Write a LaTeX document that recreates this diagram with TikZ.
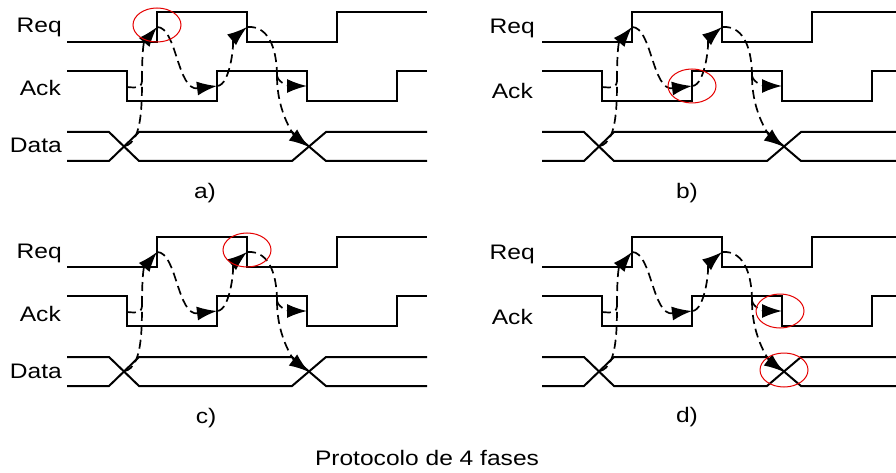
\documentclass[tikz,border=0pt]{standalone}
\usepackage{fontspec}
\setmainfont{Liberation Sans}[FakeStretch=1.17]
\usetikzlibrary{arrows.meta}
\tikzset{
	wave/.style={line width=2pt, line join=miter},
	depline/.style={line width=1.7pt, dash pattern=on 9pt off 5pt},
	dep/.style={depline, arrows={-Latex[length=20pt, width=14pt]}},
	hilite/.style={draw=red!90!black, line width=1pt},
	siglbl/.style={anchor=base east, inner sep=0pt, font=\fontsize{21}{25}\selectfont},
	sublbl/.style={anchor=base, inner sep=0pt, font=\fontsize{21}{25}\selectfont},
}
% one timing panel: #1 name prefix, #2 right end of the traces
\newcommand{\fasepanel}[2]{%
	% traces
	\draw[wave] (67,42) -- (157,42) -- (157,12) -- (247,12) -- (247,42) -- (337,42) -- (337,12) -- (#2,12);
	\draw[wave] (67,71) -- (127,71) -- (127,101) -- (217,101) -- (217,71) -- (307,71) -- (307,101) -- (397,101) -- (397,71) -- (#2,71);
	\draw[wave] (67,132) -- (109,132) -- (139,161) -- (292,161) -- (326,132) -- (#2,132);
	\draw[wave] (67,161) -- (109,161) -- (139,132) -- (292,132) -- (326,161) -- (#2,161);
	% events
	\coordinate (#1-ackdn) at (127,87);
	\coordinate (#1-cross) at (125,146);
	\coordinate (#1-join) at (142,80);
	\coordinate (#1-requp) at (157,27);
	\coordinate (#1-ackup) at (217,86);
	\coordinate (#1-reqdn) at (247,27);
	\coordinate (#1-fork) at (277,76);
	\coordinate (#1-ackdn2) at (307,86);
	\coordinate (#1-cross2) at (309,147);
	% handshake
	\draw[depline] (#1-cross) .. controls +(16,-4) and +(0,30) .. (#1-join);
	\draw[depline] (#1-ackdn) .. controls +(10,1) and +(0,8) .. (#1-join);
	\draw[dep] (#1-join) .. controls +(0,-50) and +(-10,12) .. (#1-requp);
	\draw[dep] (#1-requp) .. controls +(20,0) and +(-40,5) .. (#1-ackup);
	\draw[dep] (#1-ackup) .. controls +(14,0) and +(-12,10) .. (#1-reqdn);
	\draw[depline] (#1-reqdn) .. controls +(25,-2) and +(0,-20) .. (#1-fork);
	\draw[dep] (#1-fork) .. controls +(2,8) and +(-16,0) .. (#1-ackdn2);
	\draw[dep] (#1-fork) .. controls +(0,40) and +(-12,-9) .. (#1-cross2);
}

\begin{document}
\begin{tikzpicture}[x=1pt, y=-1pt]
	\useasboundingbox (0,0) rectangle (896,473);
	% a) Req rises
	\begin{scope}
		\fasepanel{a}{427}
		\node[siglbl] (a-req) at (62,33) {Req};
		\node[siglbl] (a-ack) at (61,96) {Ack};
		\node[siglbl] (a-data) at (62,153) {Data};
		\node[sublbl] (a-cap) at (205,198) {a)};
		\draw[hilite] (a-requp) ++(0,-2) ellipse [x radius=24pt, y radius=17pt];
	\end{scope}
	% b) Ack rises
	\begin{scope}[shift={(475,0)}]
		\fasepanel{b}{421}
		\node[siglbl] (b-req) at (60,34) {Req};
		\node[siglbl] (b-ack) at (58,99) {Ack};
		\node[sublbl] (b-cap) at (212,198) {b)};
		\draw[hilite] (b-ackup) ellipse [x radius=24pt, y radius=17pt];
	\end{scope}
	% c) Req falls
	\begin{scope}[shift={(0,225)}]
		\fasepanel{c}{427}
		\node[siglbl] (c-req) at (62,33) {Req};
		\node[siglbl] (c-ack) at (61,96) {Ack};
		\node[siglbl] (c-data) at (62,153) {Data};
		\node[sublbl] (c-cap) at (206,198) {c)};
		\draw[hilite] (c-reqdn) ++(0,-2) ellipse [x radius=24pt, y radius=17pt];
	\end{scope}
	% d) Ack falls, data changes
	\begin{scope}[shift={(475,225)}]
		\fasepanel{d}{421}
		\node[siglbl] (d-req) at (60,34) {Req};
		\node[siglbl] (d-ack) at (58,99) {Ack};
		\node[sublbl] (d-cap) at (212,197) {d)};
		\draw[hilite] (d-ackdn2) ++(-2,0) ellipse [x radius=24pt, y radius=17pt];
		\draw[hilite] (d-cross2) ++(0,-2) ellipse [x radius=24pt, y radius=17pt];
	\end{scope}
	\node[sublbl] (title) at (427,465) {Protocolo de 4 fases};
\end{tikzpicture}
\end{document}
